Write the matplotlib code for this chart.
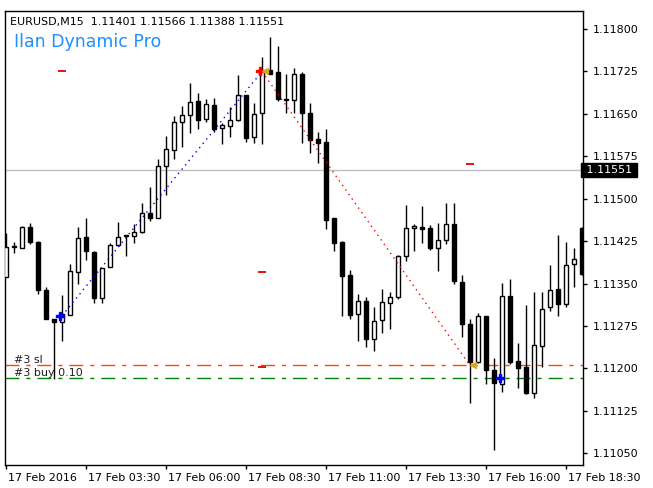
import matplotlib
matplotlib.use("Agg")
import matplotlib.pyplot as plt
import matplotlib.transforms as mtransforms
import numpy as np

# ---- data ----
opens = [1.11361, 1.11414, 1.11413, 1.11450, 1.11424, 1.11339, 1.11287, 1.11282, 1.11295, 1.11370,
         1.11432, 1.11406, 1.11325, 1.11379, 1.11418, 1.11434, 1.11434, 1.11441, 1.11474, 1.11466,
         1.11557, 1.11586, 1.11635, 1.11648, 1.11672, 1.11641, 1.11666, 1.11625, 1.11628, 1.11639,
         1.11683, 1.11609, 1.11651, 1.11727, 1.11724, 1.11676, 1.11674, 1.11721, 1.11652, 1.11606,
         1.11600, 1.11465, 1.11424, 1.11365, 1.11296, 1.11319, 1.11252, 1.11285, 1.11315, 1.11326,
         1.11398, 1.11448, 1.11450, 1.11448, 1.11413, 1.11427, 1.11455, 1.11352, 1.11278, 1.11211,
         1.11292, 1.11197, 1.11172, 1.11328, 1.11213, 1.11202, 1.11157, 1.11240, 1.11308, 1.11340,
         1.11313, 1.11384, 1.11449]
highs = [1.11440, 1.11424, 1.11452, 1.11457, 1.11425, 1.11344, 1.11288, 1.11330, 1.11385, 1.11450,
         1.11466, 1.11407, 1.11378, 1.11421, 1.11459, 1.11436, 1.11456, 1.11492, 1.11520, 1.11571,
         1.11611, 1.11646, 1.11664, 1.11705, 1.11687, 1.11677, 1.11678, 1.11634, 1.11662, 1.11719,
         1.11684, 1.11669, 1.11750, 1.11786, 1.11770, 1.11721, 1.11732, 1.11724, 1.11670, 1.11618,
         1.11624, 1.11466, 1.11425, 1.11374, 1.11332, 1.11326, 1.11309, 1.11341, 1.11335, 1.11401,
         1.11489, 1.11456, 1.11487, 1.11453, 1.11457, 1.11492, 1.11492, 1.11365, 1.11287, 1.11298,
         1.11293, 1.11219, 1.11351, 1.11358, 1.11245, 1.11312, 1.11335, 1.11335, 1.11383, 1.11435,
         1.11424, 1.11413, 1.11450]
lows = [1.11361, 1.11404, 1.11413, 1.11420, 1.11332, 1.11287, 1.11181, 1.11249, 1.11295, 1.11349,
        1.11392, 1.11315, 1.11316, 1.11379, 1.11417, 1.11398, 1.11422, 1.11440, 1.11461, 1.11465,
        1.11507, 1.11570, 1.11592, 1.11617, 1.11624, 1.11635, 1.11618, 1.11596, 1.11610, 1.11638,
        1.11601, 1.11599, 1.11596, 1.11721, 1.11673, 1.11651, 1.11651, 1.11599, 1.11580, 1.11564,
        1.11447, 1.11407, 1.11292, 1.11288, 1.11249, 1.11237, 1.11231, 1.11262, 1.11269, 1.11322,
        1.11389, 1.11407, 1.11422, 1.11410, 1.11373, 1.11420, 1.11350, 1.11255, 1.11139, 1.11210,
        1.11172, 1.11055, 1.11159, 1.11207, 1.11165, 1.11154, 1.11148, 1.11203, 1.11302, 1.11292,
        1.11308, 1.11343, 1.11365]
closes = [1.11414, 1.11416, 1.11450, 1.11424, 1.11339, 1.11287, 1.11282, 1.11296, 1.11372, 1.11430,
          1.11407, 1.11325, 1.11377, 1.11418, 1.11433, 1.11436, 1.11441, 1.11474, 1.11466, 1.11558,
          1.11588, 1.11635, 1.11648, 1.11671, 1.11639, 1.11667, 1.11624, 1.11630, 1.11639, 1.11683,
          1.11607, 1.11650, 1.11725, 1.11721, 1.11677, 1.11674, 1.11721, 1.11651, 1.11603, 1.11598,
          1.11463, 1.11421, 1.11364, 1.11295, 1.11319, 1.11252, 1.11283, 1.11317, 1.11326, 1.11398,
          1.11448, 1.11452, 1.11447, 1.11412, 1.11427, 1.11455, 1.11354, 1.11278, 1.11212, 1.11292,
          1.11197, 1.11174, 1.11328, 1.11212, 1.11201, 1.11157, 1.11241, 1.11305, 1.11338, 1.11313,
          1.11383, 1.11393, 1.11366]

time_labels = ["17 Feb 2016", "17 Feb 03:30", "17 Feb 06:00", "17 Feb 08:30",
               "17 Feb 11:00", "17 Feb 13:30", "17 Feb 16:00", "17 Feb 18:30"]
time_label_bars = [0, 10, 20, 30, 40, 50, 60, 70]
price_ticks = [1.11050, 1.11125, 1.11200, 1.11275, 1.11350, 1.11425,
               1.11500, 1.11575, 1.11650, 1.11725, 1.11800]

bid_price = 1.11551
sl_price = 1.11205
buy_price = 1.11183

# trades: (open bar, open price) -> (close bar, close price)
buy_open_bars = [7, 62]
buy_open_prices = [1.11293, 1.11183]
sell_open_bars = [32]
sell_open_prices = [1.11725]
close_bars = [32, 58]
close_prices = [1.11725, 1.11205]
link_from_bars = [7, 32]
link_from_prices = [1.11293, 1.11725]
link_to_bars = [32, 58]
link_to_prices = [1.11725, 1.11205]
link_colors = ["#0000FF", "#FF0000"]
level_mark_bars = [7, 32, 32, 58]
level_mark_prices = [1.11726, 1.11371, 1.11203, 1.11562]

header = "EURUSD,M15  1.11401 1.11566 1.11388 1.11551"
title = "Ilan Dynamic Pro"

# ---- figure ----
W, H = 653, 488
fig = plt.figure(figsize=(W / 100, H / 100), dpi=100)
fig.patch.set_facecolor("white")
ax = fig.add_axes([5 / W, 23 / H, 578 / W, 454 / H])
ax.set_xlim(-0.125, 72.125)
ax.set_ylim(1.11029, 1.11832)

x = np.arange(len(opens))
o = np.array(opens); c = np.array(closes); hi = np.array(highs); lo = np.array(lows)
up = c >= o

ax.vlines(x, lo, hi, color="black", lw=1, zorder=2)
bottoms = np.minimum(o, c)
heights = np.abs(c - o)
ax.bar(x[up], heights[up], bottom=bottoms[up], width=0.5, facecolor="white",
       edgecolor="black", linewidth=1, zorder=3)
ax.bar(x[~up], heights[~up], bottom=bottoms[~up], width=0.5, facecolor="black",
       edgecolor="black", linewidth=1, zorder=3)

# bid line
ax.axhline(bid_price, color="#C0C0C0", lw=1, zorder=1)
# order levels
ax.axhline(sl_price, color="#FF4500", lw=1, dashes=(10, 5, 3, 5), zorder=1)
ax.axhline(buy_price, color="#008000", lw=1, dashes=(10, 5, 3, 5), zorder=1)

btr = mtransforms.blended_transform_factory(ax.transAxes, ax.transData)
ax.text(9 / 578, sl_price, "#3 sl", transform=btr, fontsize=8, va="bottom",
        ha="left", color="#202020", zorder=5)
ax.text(9 / 578, buy_price, "#3 buy 0.10", transform=btr, fontsize=8, va="bottom",
        ha="left", color="#202020", zorder=5)

# trade links
for fb, fp, tb, tp, col in zip(link_from_bars, link_from_prices, link_to_bars,
                                link_to_prices, link_colors):
    ax.plot([fb, tb], [fp, tp], color=col, lw=1, linestyle=(0, (1, 3)), zorder=4)

left_off = mtransforms.offset_copy(ax.transData, fig=fig, x=-2, y=0, units="dots")
right_off = mtransforms.offset_copy(ax.transData, fig=fig, x=3, y=0, units="dots")
ax.plot(buy_open_bars, buy_open_prices, linestyle="none", marker="P", ms=6,
        color="#0000FF", mec="#0000FF", transform=left_off, zorder=6)
ax.plot(sell_open_bars, sell_open_prices, linestyle="none", marker="P", ms=6,
        color="#FF0000", mec="#FF0000", transform=left_off, zorder=6)
ax.plot(close_bars, close_prices, linestyle="none", marker="<", ms=5,
        color="#DAA520", mec="#DAA520", transform=right_off, zorder=6)
ax.plot(level_mark_bars, level_mark_prices, linestyle="none", marker="_", ms=6,
        mew=1.3, color="#E00000", zorder=6)

# header texts
ax.text(5 / 578, 1 - 11 / 454, header, transform=ax.transAxes, fontsize=8,
        va="center", ha="left", color="black")
ax.text(9 / 578, 1 - 31 / 454, title, transform=ax.transAxes, fontsize=12.5,
        va="center", ha="left", color="#1E90FF")

# axes styling
for s in ax.spines.values():
    s.set_color("black"); s.set_linewidth(1)
ax.yaxis.tick_right()
ax.set_yticks(price_ticks)
ax.set_yticklabels([f"{p:.5f}" for p in price_ticks])
ax.tick_params(axis="y", direction="out", length=3, width=1, pad=4, labelsize=8,
               colors="black")
ax.set_xticks(time_label_bars)
ax.set_xticklabels(time_labels)
ax.tick_params(axis="x", direction="out", length=3, width=1, pad=3, labelsize=8,
               colors="black")
shift = mtransforms.ScaledTranslation(2 / 100, 0, fig.dpi_scale_trans)
for lab in ax.get_xticklabels():
    lab.set_ha("left")
    lab.set_transform(lab.get_transform() + shift)

# bid price box
ax.text(1.0, bid_price, " 1.11551 ", transform=btr, fontsize=8, va="center",
        ha="left", color="white", zorder=7, clip_on=False,
        bbox=dict(boxstyle="square,pad=0.15", facecolor="black", edgecolor="black"))

fig.savefig("out.png", dpi=100, facecolor="white")
